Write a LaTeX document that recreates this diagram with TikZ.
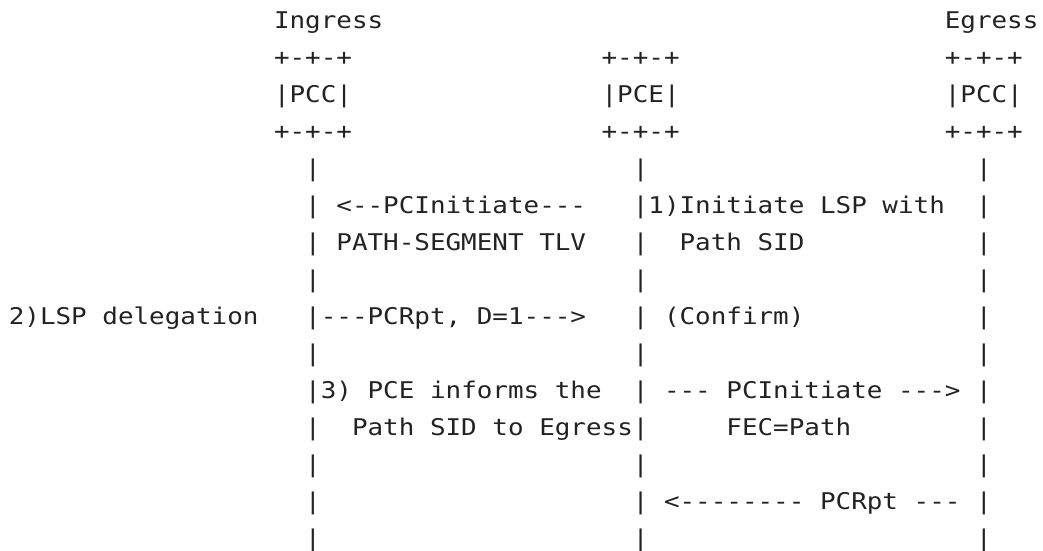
\documentclass[tikz,border=0pt]{standalone}
\usepackage{fontspec}
\setmonofont[FakeStretch=1.127]{DejaVu Sans Mono}
\definecolor{ink}{HTML}{222222}
\newcommand\pcs[4]{\node[txt] (#1) at ({8.8+15.6*#2},{28.5+37*#3}) {#4};}
\begin{document}
\begin{tikzpicture}[x=1pt,y=-1pt,
  txt/.style={anchor=base west, inner sep=0pt, outer sep=0pt,
    font=\ttfamily\fontsize{23}{23}\selectfont, text=ink}]
\useasboundingbox (0,0) rectangle (1043,550);
% row 0
\pcs{ingL}{17}{0}{Ingress}
\pcs{egrL}{60}{0}{Egress}
% rows 1-3 boxes
\pcs{b1a}{17}{1}{+-+-+}
\pcs{b1b}{38}{1}{+-+-+}
\pcs{b1c}{60}{1}{+-+-+}
\pcs{pccI}{17}{2}{|PCC|}
\pcs{pce}{38}{2}{|PCE|}
\pcs{pccE}{60}{2}{|PCC|}
\pcs{b3a}{17}{3}{+-+-+}
\pcs{b3b}{38}{3}{+-+-+}
\pcs{b3c}{60}{3}{+-+-+}
% plain bar rows
\foreach \r in {4,7,9,12,14}{
  \pcs{bar\r a}{19}{\r}{|}
  \pcs{bar\r b}{40}{\r}{|}
  \pcs{bar\r c}{62}{\r}{|}
}
% row 5
\pcs{l5a}{19}{5}{|}
\pcs{m5}{21}{5}{<--PCInitiate---}
\pcs{l5b}{40}{5}{|1)Initiate LSP with}
\pcs{l5c}{62}{5}{|}
% row 6
\pcs{l6a}{19}{6}{|}
\pcs{m6}{21}{6}{PATH-SEGMENT TLV}
\pcs{l6b}{40}{6}{|}
\pcs{n6}{43}{6}{Path SID}
\pcs{l6c}{62}{6}{|}
% row 8
\pcs{s8}{0}{8}{2)LSP delegation}
\pcs{m8}{19}{8}{|---PCRpt, D=1--->}
\pcs{l8b}{40}{8}{|}
\pcs{n8}{42}{8}{(Confirm)}
\pcs{l8c}{62}{8}{|}
% row 10
\pcs{m10}{19}{10}{|3) PCE informs the}
\pcs{l10b}{40}{10}{|}
\pcs{n10}{42}{10}{--- PCInitiate --->}
\pcs{l10c}{62}{10}{|}
% row 11
\pcs{l11a}{19}{11}{|}
\pcs{m11}{22}{11}{Path SID to Egress|}
\pcs{n11}{46}{11}{FEC=Path}
\pcs{l11c}{62}{11}{|}
% row 13
\pcs{l13a}{19}{13}{|}
\pcs{l13b}{40}{13}{|}
\pcs{n13}{42}{13}{<-------- PCRpt ---}
\pcs{l13c}{62}{13}{|}
\end{tikzpicture}
\end{document}
